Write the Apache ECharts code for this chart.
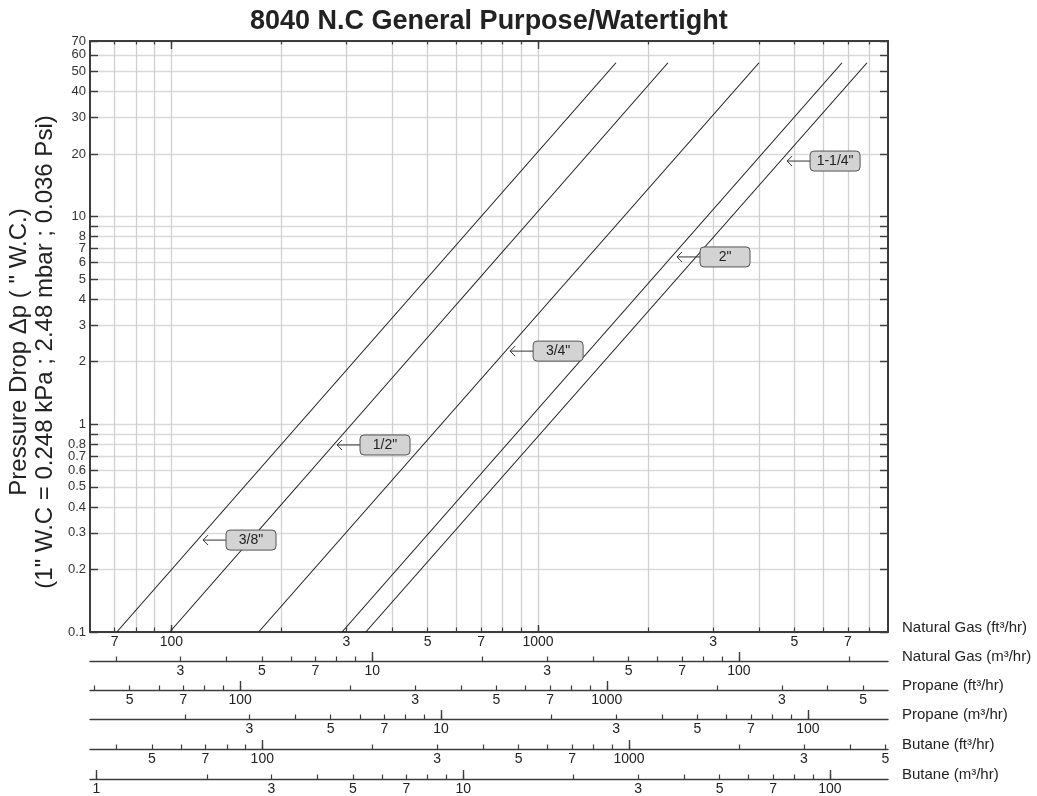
<!DOCTYPE html>
<html>
<head>
<meta charset="utf-8">
<script src="https://cdn.jsdelivr.net/npm/echarts@6/dist/echarts.min.js"></script>
<style>
html,body{margin:0;padding:0;background:#fff;}
#chart{width:1037px;height:796px;}
</style>
</head>
<body>
<div id="chart"></div>
<script>
// ---------------- data ----------------
const SIZES = ['3/8"', '1/2"', '3/4"', '2"', '1-1/4"'];
// Natural gas flow (ft3/hr) at the low and high ends of each line
const FLOW_START = [71, 99, 173, 292, 339];
const FLOW_END = [1631, 2261, 4004, 6744, 7890];
const DP_START = 0.1;
const DP_END = 55;
// label arrow tips (flow ft3/hr, pressure drop "W.C.)
const LABEL_FLOW = [122, 283, 839, 2393, 4776];
const LABEL_DP = [0.277, 0.795, 2.25, 6.39, 18.5];

const X_MIN = 60, X_MAX = 9000;
const Y_MIN = 0.1, Y_MAX = 70;

const Y_LABELS = [0.1, 0.2, 0.3, 0.4, 0.5, 0.6, 0.7, 0.8, 1, 2, 3, 4, 5, 6, 7, 8, 10, 20, 30, 40, 50, 60, 70];
const Y_TICKS = [0.1, 0.2, 0.3, 0.4, 0.5, 0.6, 0.7, 0.8, 0.9, 1, 2, 3, 4, 5, 6, 7, 8, 9, 10, 20, 30, 40, 50, 60, 70];

const ROW_NAMES = ['Natural Gas (ft³/hr)', 'Natural Gas (m³/hr)', 'Propane (ft³/hr)', 'Propane (m³/hr)', 'Butane (ft³/hr)', 'Butane (m³/hr)'];
// natural gas ft3/hr equivalent of one unit on each scale
const ROW_FACTORS = [1, 35.3, 1.54, 54.4, 1.77, 62.5];
const NG_FT3_LABELS = [70, 100, 300, 500, 700, 1000, 3000, 5000, 7000];
const NG_M3_LABELS = [3, 5, 7, 10, 30, 50, 70, 100];
const PROPANE_FT3_LABELS = [50, 70, 100, 300, 500, 700, 1000, 3000, 5000];
const PROPANE_M3_LABELS = [3, 5, 7, 10, 30, 50, 70, 100];
const BUTANE_FT3_LABELS = [50, 70, 100, 300, 500, 700, 1000, 3000, 5000];
const BUTANE_M3_LABELS = [1, 3, 5, 7, 10, 30, 50, 70, 100];
const ROW_LABELS = [NG_FT3_LABELS, NG_M3_LABELS, PROPANE_FT3_LABELS, PROPANE_M3_LABELS, BUTANE_FT3_LABELS, BUTANE_M3_LABELS];

const TITLE = '8040 N.C General Purpose/Watertight';
const Y_NAME_1 = 'Pressure Drop \u0394p ( " W.C.)';
const Y_NAME_2 = '(1" W.C = 0.248 kPa ; 2.48 mbar ; 0.036 Psi)';

// ---------------- helpers ----------------
const FONT = '"Liberation Sans", Arial, Helvetica, sans-serif';
const MANTISSAS = [1, 2, 3, 4, 5, 6, 7, 8, 9];
function logTicks(min, max) {
  const out = [];
  for (let e = -2; e <= 5; e++) {
    for (const m of MANTISSAS) {
      const v = +(m * Math.pow(10, e)).toPrecision(6);
      if (v > min * 1.0001 && v < max * 1.0001) out.push(v);
    }
  }
  return out;
}
function isDecade(v) {
  const e = Math.floor(Math.log10(v) + 1e-9);
  return Math.abs(v / Math.pow(10, e) - 1) < 1e-6;
}
function tickFmt(v) {
  if (isDecade(v)) return String(v);
  const e = Math.floor(Math.log10(v) + 1e-9);
  return String(Math.round(v / Math.pow(10, e)));
}

const FRAME = '#3c3c3c';
const OFFSETS = [0, 29, 58, 87, 117, 147];

const xAxes = [];
ROW_NAMES.forEach((name, r) => {
  const f = ROW_FACTORS[r];
  const min = X_MIN / f, max = X_MAX / f;
  const ticks = logTicks(min, max).filter(v => v < max * 0.9999 || r > 0);
  const decades = ticks.filter(isDecade);
  xAxes.push({
    type: 'log', gridIndex: 0, position: 'bottom', offset: OFFSETS[r],
    min: min, max: max,
    name: name, nameLocation: 'end', nameGap: 14,
    nameTextStyle: { fontSize: 15, color: '#222', fontFamily: FONT, verticalAlign: 'bottom', lineHeight: 9 },
    axisLine: { show: true, onZero: false, lineStyle: { color: FRAME, width: r === 0 ? 2 : 1.4 } },
    axisTick: { show: true, inside: true, length: 4.5, customValues: ticks, lineStyle: { color: FRAME, width: 1.2 } },
    axisLabel: { show: true, margin: 3, fontSize: 14, color: '#222', fontFamily: FONT,
      customValues: ROW_LABELS[r], formatter: v => tickFmt(v) },
    splitLine: r === 0 ? { show: true, lineStyle: { color: '#d0d0d0', width: 1.3 } } : { show: false }
  });
  xAxes.push({
    type: 'log', gridIndex: 0, position: 'bottom', offset: OFFSETS[r],
    min: min, max: max,
    axisLine: { show: false, onZero: false },
    axisTick: { show: true, inside: true, length: r === 0 ? 7 : 9, customValues: decades, lineStyle: { color: FRAME, width: 1.4 } },
    axisLabel: { show: false },
    splitLine: { show: false }
  });
});
// top frame
const topTicks = logTicks(X_MIN, X_MAX).filter(v => v < X_MAX * 0.9999);
xAxes.push({
  type: 'log', gridIndex: 0, position: 'top', min: X_MIN, max: X_MAX,
  axisLine: { show: true, onZero: false, lineStyle: { color: FRAME, width: 2 } },
  axisTick: { show: true, inside: true, length: 3.5, customValues: topTicks, lineStyle: { color: FRAME, width: 1.2 } },
  axisLabel: { show: false }, splitLine: { show: false }
});
xAxes.push({
  type: 'log', gridIndex: 0, position: 'top', min: X_MIN, max: X_MAX,
  axisLine: { show: false, onZero: false },
  axisTick: { show: true, inside: true, length: 8, customValues: topTicks.filter(isDecade), lineStyle: { color: FRAME, width: 1.4 } },
  axisLabel: { show: false }, splitLine: { show: false }
});

const yAxes = [
  {
    type: 'log', gridIndex: 0, position: 'left', min: Y_MIN, max: Y_MAX,
    axisLine: { show: true, onZero: false, lineStyle: { color: FRAME, width: 2 } },
    axisTick: { show: true, inside: true, length: 8, customValues: Y_TICKS, lineStyle: { color: FRAME, width: 1.4 } },
    axisLabel: { show: true, margin: 4, fontSize: 13, color: '#333', fontFamily: FONT,
      customValues: Y_LABELS, formatter: v => String(v) },
    splitLine: { show: true, lineStyle: { color: '#dadada', width: 1.3 } }
  },
  {
    type: 'log', gridIndex: 0, position: 'right', min: Y_MIN, max: Y_MAX,
    axisLine: { show: true, onZero: false, lineStyle: { color: FRAME, width: 2 } },
    axisTick: { show: true, inside: true, length: 8, customValues: Y_TICKS, lineStyle: { color: FRAME, width: 1.4 } },
    axisLabel: { show: false }, splitLine: { show: false }
  }
];

const lineSeries = SIZES.map((s, i) => ({
  type: 'line', name: s, xAxisIndex: 0, yAxisIndex: 0,
  data: [[FLOW_START[i], DP_START], [FLOW_END[i], DP_END]],
  showSymbol: false, symbol: 'none', silent: true,
  lineStyle: { color: '#1e1e1e', width: 1.1 }, z: 3
}));

const labelSeries = {
  type: 'custom', xAxisIndex: 0, yAxisIndex: 0, clip: false, silent: true, z: 10,
  data: LABEL_FLOW.map((f, i) => [f, LABEL_DP[i]]),
  encode: { x: 0, y: 1 },
  renderItem: function (params, api) {
    const p = api.coord([api.value(0), api.value(1)]);
    const tx = p[0], ty = p[1];
    const gap = 23, w = 50, h = 20;
    return {
      type: 'group',
      children: [
        { type: 'line', shape: { x1: tx, y1: ty, x2: tx + gap, y2: ty }, style: { stroke: '#333', lineWidth: 1 } },
        { type: 'polyline', shape: { points: [[tx + 5, ty - 5], [tx, ty], [tx + 5, ty + 5]] }, style: { stroke: '#333', lineWidth: 1, fill: null } },
        { type: 'rect', shape: { x: tx + gap, y: ty - h / 2, width: w, height: h, r: 4 }, style: { fill: '#d3d3d3', stroke: '#555', lineWidth: 1 } },
        { type: 'text', style: { x: tx + gap + w / 2, y: ty + 0.5, text: SIZES[params.dataIndex], fontSize: 14, fontFamily: FONT, fill: '#222', align: 'center', verticalAlign: 'middle' } }
      ]
    };
  }
};

const chart = echarts.init(document.getElementById('chart'), null, { renderer: 'canvas' });
chart.setOption({
  animation: false,
  backgroundColor: '#fff',
  title: {
    text: TITLE, left: 250, top: 8, padding: 0,
    textStyle: { fontSize: 27, fontWeight: 'bold', color: '#222', fontFamily: FONT }
  },
  grid: { left: 90, right: 149, top: 41, bottom: 164, containLabel: false },
  xAxis: xAxes,
  yAxis: yAxes,
  graphic: [
    { type: 'text', x: 19, y: 352, rotation: Math.PI / 2,
      style: { text: Y_NAME_1, fontSize: 24, fontFamily: FONT, fill: '#222', align: 'center', verticalAlign: 'middle' } },
    { type: 'text', x: 45, y: 352, rotation: Math.PI / 2,
      style: { text: Y_NAME_2, fontSize: 24, fontFamily: FONT, fill: '#222', align: 'center', verticalAlign: 'middle' } }
  ],
  series: lineSeries.concat([labelSeries])
});
</script>
</body>
</html>
